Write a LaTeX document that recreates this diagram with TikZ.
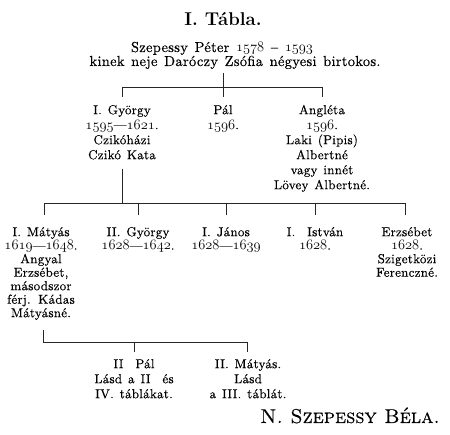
\documentclass[tikz,border=0pt]{standalone}
\usepackage{fontspec}
\newfontfamily\bodyfont{lmroman10-regular}[Extension=.otf, FakeBold=0.35, LetterSpace=2, WordSpace=1.3]
\newfontfamily\capsfont{lmromancaps10-regular}[Extension=.otf, FakeBold=0.35]
\newcommand\osf[1]{{\fontsize{14.5}{\baselineskip}\usefont{OML}{lmm}{b}{it}#1}}
\begin{document}
\begin{tikzpicture}[x=1pt,y=-1pt,
  txt/.style={inner sep=0pt, align=center, anchor=north},
  gentwo/.style={txt, font=\bodyfont\fontsize{13}{15}\selectfont},
  genthree/.style={txt, font=\bodyfont\fontsize{13}{13.5}\selectfont},
  genfour/.style={txt, font=\bodyfont\fontsize{13}{15}\selectfont},
  toptext/.style={inner sep=0pt, anchor=base, font=\bodyfont\fontsize{14.5}{14}\selectfont},
  link/.style={line width=0.7pt, black!85},
  tick/.style={link, shorten >=#1},
  tick/.default=7pt]
\fill[white] (0,0) rectangle (450,435);
\useasboundingbox (0,0) rectangle (450,435);
\def\fr{\rule{0pt}{10pt}}
% title
\node[inner sep=0pt, anchor=base, font=\fontsize{18.5}{20}\selectfont\bfseries] (title) at (223,26) {I. Tábla.};
% generation 1
\node[toptext] (peter) at (222,52) {Szepessy Péter \osf{1578} – \osf{1593}};
\node[toptext] (neje) at (235,66) {kinek neje Daróczy Zsófia négyesi birtokos.};
% generation 2
\node[gentwo] (gyorgy1) at (122,104) {\fr I. György\\\osf{1595}—\osf{1621}.\\Czikóházi\\Czikó Kata};
\node[gentwo] (pal1) at (223,104) {\fr Pál\\\osf{1596}.};
\node[gentwo] (angleta) at (322,104) {\fr Angléta\\\osf{1596}.\\Laki (Pipis)\\Albertné\\vagy innét\\Lövey Albertné.};
% generation 3
\node[genthree] (matyas1) at (41,226) {\fr I. Mátyás\\\osf{1619}—\osf{1648}.\\Angyal\\Erzsébet,\\másodszor\\férj. Kádas\\Mátyásné.};
\node[genthree] (gyorgy2) at (138,226) {\fr II. György\\\osf{1628}—\osf{1642}.};
\node[genthree] (janos) at (226,226) {\fr I. János\\\osf{1628}—\osf{1639}};
\node[genthree] (istvan) at (315,226) {\fr I.\ \ István\\\osf{1628}.};
\node[genthree] (erzsebet) at (407,226) {\fr Erzsébet\\\osf{1628}.\\Szigetközi\\Ferenczné.};
% generation 4
\node[genfour] (pal2) at (134,358) {\fr II\ \ Pál\\Lásd\ a II\ \ és\\IV. táblákat.};
\node[genfour] (matyas2) at (248,358) {\fr II. Mátyás.\\Lásd\\a III. táblát.};
% signature
\node[inner sep=0pt, anchor=base, font=\capsfont\fontsize{20}{22}\selectfont] (sig) at (350,423) {N. Szepessy Béla.};
% connectors
\coordinate (top1) at (223,73);
\coordinate (bar1) at (223,87);
\coordinate (bar1l) at (122,87);
\coordinate (bar1r) at (322,87);
\draw[link] (top1) -- (bar1);
\draw[link] (bar1l) -- (bar1r);
\draw[tick] (bar1l) -- (gyorgy1.north);
\draw[tick] (bar1) -- (pal1.north);
\draw[tick] (bar1r) -- (angleta.north);
\coordinate (bar2) at (122,203);
\coordinate (bar2l) at (44,203);
\coordinate (bar2r) at (405,203);
\draw[link, shorten <=9pt] (gyorgy1.south) -- (bar2);
\draw[link] (bar2l) -- (bar2r);
\draw[tick=11pt] (bar2l) -- (bar2l |- matyas1.north);
\draw[tick=11pt] (bar2 -| gyorgy2.north) -- (gyorgy2.north);
\draw[tick=11pt] (bar2 -| janos.north) -- (janos.north);
\draw[tick=11pt] (bar2 -| istvan.north) -- (istvan.north);
\draw[tick=11pt] (bar2r) -- (bar2r |- erzsebet.north) ;
\coordinate (bar3) at (43,342);
\coordinate (bar3r) at (247,342);
\draw[link, shorten <=10pt] (matyas1.south -| bar3) -- (bar3) -- (bar3r);
\draw[tick=6pt] (bar3 -| pal2.north) -- (pal2.north);
\draw[tick=6pt] (bar3r) -- (bar3r |- matyas2.north);
\end{tikzpicture}
\end{document}
